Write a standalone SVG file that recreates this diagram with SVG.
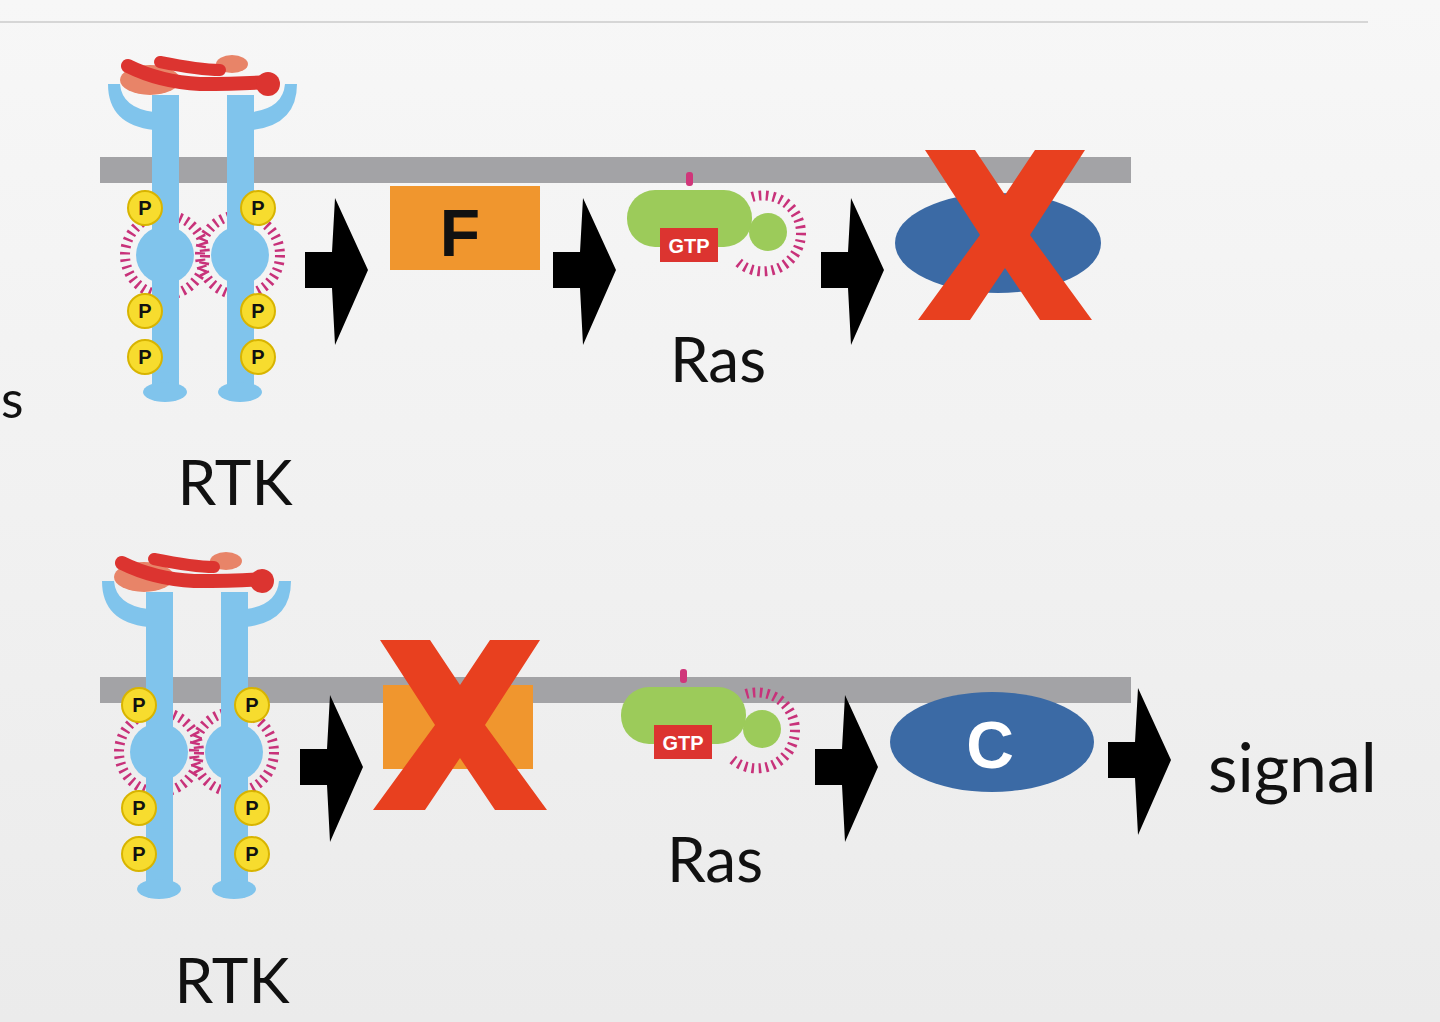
<svg xmlns="http://www.w3.org/2000/svg" width="1440" height="1022" viewBox="0 0 1440 1022">
<defs>
<linearGradient id="bg" x1="0" y1="0" x2="0" y2="1"><stop offset="0" stop-color="#f7f7f7"/><stop offset="1" stop-color="#ebebeb"/></linearGradient>
<style>
.lbl{font-family:"Lato","Liberation Sans",sans-serif;fill:#111}
.pc{fill:#f7dc2e;stroke:#d8b400;stroke-width:2}
.pt{font-family:"Liberation Sans",sans-serif;font-weight:bold;font-size:20px;fill:#111;text-anchor:middle}
.ring{fill:none;stroke:#c8327a;stroke-width:10;stroke-dasharray:2.5 4.5}
.blue{fill:#80c4ec}
.arr{fill:#000}
.xr{fill:#e8401f}
</style>
<g id="rtk">
<circle class="ring" cx="165" cy="255" r="40"/>
<circle class="ring" cx="240" cy="255" r="40"/>
<rect class="blue" x="152" y="95" width="27" height="295"/>
<path class="blue" d="M108,84 L120,84 Q122,108 154,112 L154,130 Q108,125 108,84Z"/>
<ellipse class="blue" cx="165" cy="392" rx="22" ry="10"/>
<circle class="blue" cx="165" cy="255" r="29"/>
<rect class="blue" x="227" y="95" width="27" height="295"/>
<path class="blue" d="M297,84 L285,84 Q283,108 252,112 L252,130 Q297,125 297,84Z"/>
<ellipse class="blue" cx="240" cy="392" rx="22" ry="10"/>
<circle class="blue" cx="240" cy="255" r="29"/>
<ellipse cx="150" cy="80" rx="30" ry="15" fill="#e88468"/>
<ellipse cx="232" cy="64" rx="16" ry="9" fill="#e88468"/>
<path d="M128,66 Q160,82 200,84 Q240,84 268,82" fill="none" stroke="#dc3430" stroke-width="14" stroke-linecap="round"/>
<path d="M160,62 Q200,70 220,70" fill="none" stroke="#dc3430" stroke-width="12" stroke-linecap="round"/>
<circle cx="268" cy="84" r="12" fill="#dc3430"/>
<circle class="pc" cx="145" cy="208" r="17"/><text class="pt" x="145" y="215">P</text>
<circle class="pc" cx="145" cy="311" r="17"/><text class="pt" x="145" y="318">P</text>
<circle class="pc" cx="145" cy="357" r="17"/><text class="pt" x="145" y="364">P</text>
<circle class="pc" cx="258" cy="208" r="17"/><text class="pt" x="258" y="215">P</text>
<circle class="pc" cx="258" cy="311" r="17"/><text class="pt" x="258" y="318">P</text>
<circle class="pc" cx="258" cy="357" r="17"/><text class="pt" x="258" y="364">P</text>
</g>
<g id="ras">
<rect x="686" y="172" width="7" height="14" rx="3" fill="#d0367a"/>
<path class="ring" d="M752,197 A38,38 0 1 1 738,262"/>
<rect x="627" y="190" width="125" height="57" rx="28" fill="#9ccb5a"/>
<circle cx="768" cy="232" r="19" fill="#9ccb5a"/>
<rect x="660" y="228" width="58" height="34" fill="#dc3430"/>
<text x="689" y="253" font-family="Liberation Sans,sans-serif" font-weight="bold" font-size="20" fill="#fff" text-anchor="middle">GTP</text>
</g>
<polygon id="chev" class="arr" points="335,198 368,270 335,345 332,288 305,288 305,252 332,252"/>
<path id="xmark" class="xr" d="M0,0 L50,0 L80,45 L110,0 L160,0 L105,85 L167,170 L115,170 L80,118 L45,170 L-7,170 L55,85 Z"/>
</defs>
<rect width="1440" height="1022" fill="url(#bg)"/>
<line x1="0" y1="22" x2="1368" y2="22" stroke="#d6d6d6" stroke-width="2"/>
<text class="lbl" x="1" y="418" font-size="52">s</text>
<g id="membranes">
<rect x="100" y="157" width="1031" height="26" fill="#a3a3a6"/>
<rect x="100" y="677" width="1031" height="26" fill="#a3a3a6"/>
</g>
<g id="rtk-top"><use href="#rtk"/><text class="lbl" x="235" y="505" font-size="62" text-anchor="middle">RTK</text></g>
<g id="F-top"><rect x="390" y="186" width="150" height="84" fill="#f0962e"/><text x="460" y="256" font-family="Liberation Sans,sans-serif" font-weight="bold" font-size="66" text-anchor="middle" fill="#111">F</text></g>
<g id="ras-top"><use href="#ras"/><text class="lbl" x="718" y="382" font-size="62" text-anchor="middle">Ras</text></g>
<g id="C-top"><ellipse cx="998" cy="243" rx="103" ry="50" fill="#3b6aa5"/><use href="#xmark" transform="translate(925,150)"/></g>
<g id="rtk-bot"><use href="#rtk" transform="translate(-6,497)"/><text class="lbl" x="232" y="1003" font-size="62" text-anchor="middle">RTK</text></g>
<g id="F-bot"><rect x="383" y="685" width="150" height="84" fill="#f0962e"/><use href="#xmark" transform="translate(380,640)"/></g>
<g id="ras-bot"><use href="#ras" transform="translate(-6,497)"/><text class="lbl" x="715" y="882" font-size="62" text-anchor="middle">Ras</text></g>
<g id="C-bot"><ellipse cx="992" cy="742" rx="102" ry="50" fill="#3b6aa5"/><text x="990" y="768" font-family="Liberation Sans,sans-serif" font-weight="bold" font-size="66" text-anchor="middle" fill="#fff">C</text></g>
<g id="signal"><text class="lbl" x="1208" y="792" font-size="68">signal</text></g>
<g id="connectors">
<use href="#chev"/>
<use href="#chev" transform="translate(248,0)"/>
<use href="#chev" transform="translate(516,0)"/>
<use href="#chev" transform="translate(-5,497)"/>
<use href="#chev" transform="translate(510,497)"/>
<use href="#chev" transform="translate(803,490)"/>
</g>
</svg>
